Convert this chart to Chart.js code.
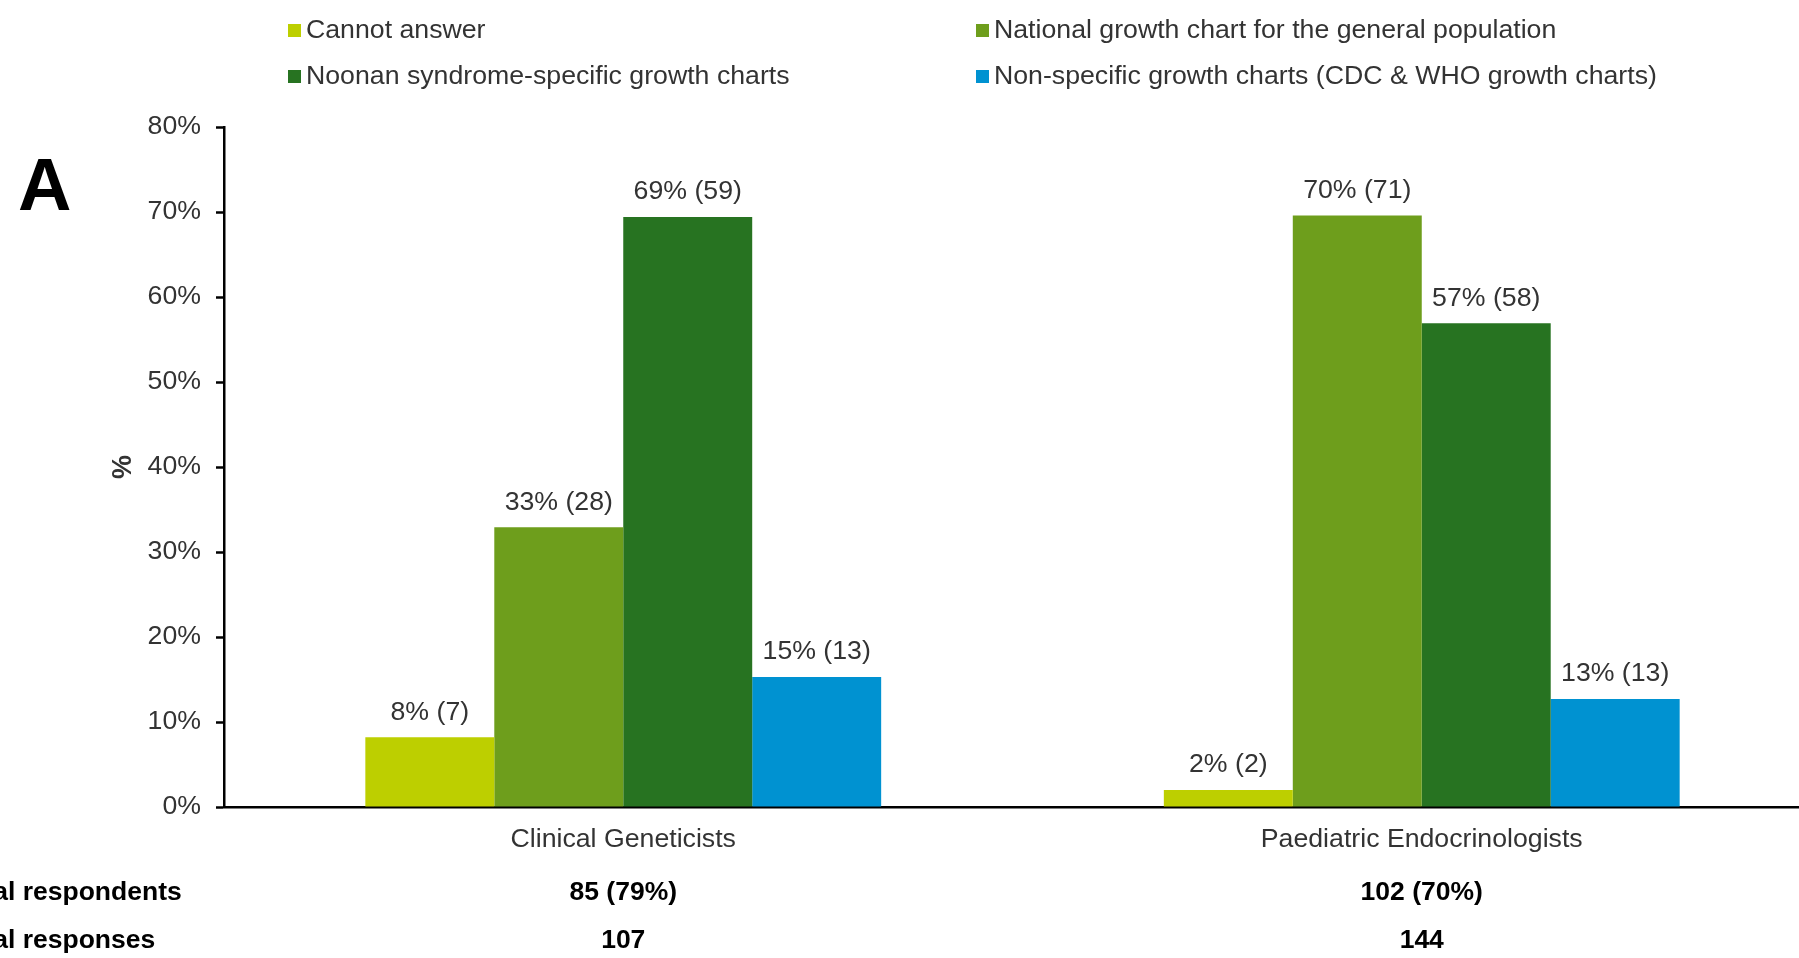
<!DOCTYPE html>
<html>
<head>
<meta charset="utf-8">
<script src="https://cdn.jsdelivr.net/npm/chart.js@4"></script>
<style>
  html, body { margin: 0; padding: 0; background: #fff; overflow: hidden; }
  #wrap { width: 1823px; height: 958px; position: relative; }
</style>
</head>
<body>
<div id="wrap"><canvas id="myBarChart"></canvas></div>
<script>
const categories = ["Clinical Geneticists", "Paediatric Endocrinologists"];
const seriesNames = [
  "Cannot answer",
  "National growth chart for the general population",
  "Noonan syndrome-specific growth charts",
  "Non-specific growth charts (CDC & WHO growth charts)"
];
const seriesColors = ["#BDCF00", "#6E9E1C", "#277321", "#0092D1"];
// percentages per series, one value per category
const cannotAnswer = [8.2, 2.0];
const nationalChart = [32.9, 69.6];
const noonanChart = [69.4, 56.9];
const nonSpecific = [15.3, 12.7];
// counts shown in brackets
const cannotAnswerN = [7, 2];
const nationalChartN = [28, 71];
const noonanChartN = [59, 58];
const nonSpecificN = [13, 13];
const totalRespondents = ["85 (79%)", "102 (70%)"];
const totalResponses = ["107", "144"];
const yTicks = [0, 10, 20, 30, 40, 50, 60, 70, 80];

const values = [cannotAnswer, nationalChart, noonanChart, nonSpecific];
const counts = [cannotAnswerN, nationalChartN, noonanChartN, nonSpecificN];

const FONT = '"Liberation Sans", Arial, sans-serif';
const TXT = "#333333";

const barData = {
  labels: categories,
  datasets: seriesNames.map((name, i) => ({
    label: name,
    data: values[i],
    backgroundColor: seriesColors[i],
    borderWidth: 0,
    categoryPercentage: 0.646,
    barPercentage: 1.0,
  })),
};

/* etiquetas encima de cada barra */
const barLabels = {
  id: "barLabels",
  afterDatasetsDraw(chart) {
    const ctx = chart.ctx;
    ctx.save();
    ctx.font = "26.7px " + FONT;
    ctx.fillStyle = TXT;
    ctx.textAlign = "center";
    ctx.textBaseline = "middle";
    chart.data.datasets.forEach((ds, i) => {
      chart.getDatasetMeta(i).data.forEach((bar, j) => {
        const v = ds.data[j];
        ctx.fillText(Math.round(v) + "% (" + counts[i][j] + ")", bar.x, bar.y - 25);
      });
    });
    ctx.restore();
  },
};

/* leyenda en dos columnas, letra A, titulo del eje y filas de totales */
const extras = {
  id: "extras",
  afterDraw(chart) {
    const ctx = chart.ctx;
    const xs = chart.scales.x;
    ctx.save();
    // legend
    const legendPos = [[288, 30], [976, 30], [288, 76], [976, 76]];
    ctx.font = "26.7px " + FONT;
    ctx.textBaseline = "middle";
    ctx.textAlign = "left";
    seriesNames.forEach((name, i) => {
      const [lx, ly] = legendPos[i];
      ctx.fillStyle = seriesColors[i];
      ctx.fillRect(lx, ly - 6, 13, 13);
      ctx.fillStyle = TXT;
      ctx.fillText(name, lx + 18, ly + 1);
    });
    // panel letter
    ctx.fillStyle = "#000";
    ctx.font = "bold 74px " + FONT;
    ctx.textBaseline = "alphabetic";
    ctx.fillText("A", 18, 210);
    // y axis title
    ctx.save();
    ctx.translate(124, 467);
    ctx.rotate(-Math.PI / 2);
    ctx.textAlign = "center";
    ctx.textBaseline = "middle";
    ctx.font = "bold 27px " + FONT;
    ctx.fillStyle = "#333";
    ctx.fillText("%", 0, 0);
    ctx.restore();
    // totals rows
    ctx.font = "bold 26.5px " + FONT;
    ctx.fillStyle = "#000";
    ctx.textBaseline = "middle";
    ctx.textAlign = "left";
    ctx.fillText("Total respondents", -46, 893);
    ctx.fillText("Total responses", -46, 941);
    ctx.textAlign = "center";
    categories.forEach((c, j) => {
      const cx = xs.getPixelForValue(j);
      ctx.fillText(totalRespondents[j], cx, 893);
      ctx.fillText(totalResponses[j], cx, 941);
    });
    ctx.restore();
  },
};

var myBarGraph = document.getElementById("myBarChart");
var barCtx = myBarGraph.getContext("2d");

var myBarChart = new Chart(barCtx, {
  type: "bar",
  data: barData,
  plugins: [barLabels, extras],
  options: {
    responsive: true,
    maintainAspectRatio: false,
    animation: false,
    layout: { padding: { top: 127, right: 2, bottom: 91, left: 0 } },
    plugins: {
      legend: { display: false },
      tooltip: { enabled: false },
    },
    scales: {
      x: {
        grid: { display: false, drawTicks: false },
        border: { display: true, color: "#000", width: 2.5 },
        ticks: {
          color: TXT,
          padding: 17,
          font: { family: FONT, size: 26.7 },
        },
        afterFit: (s) => { s.height = 60; },
      },
      y: {
        min: 0,
        max: 80,
        afterBuildTicks: (s) => { s.ticks = yTicks.map((v) => ({ value: v })); },
        grid: {
          display: true,
          drawOnChartArea: false,
          drawTicks: true,
          tickLength: 8,
          tickWidth: 2.5,
          tickColor: "#000",
        },
        border: { display: true, color: "#000", width: 2.5 },
        ticks: {
          color: TXT,
          padding: 15,
          font: { family: FONT, size: 26.7 },
          callback: (v) => v + "%",
        },
        afterFit: (s) => { s.width = 224; },
      },
    },
  },
});
</script>
</body>
</html>
